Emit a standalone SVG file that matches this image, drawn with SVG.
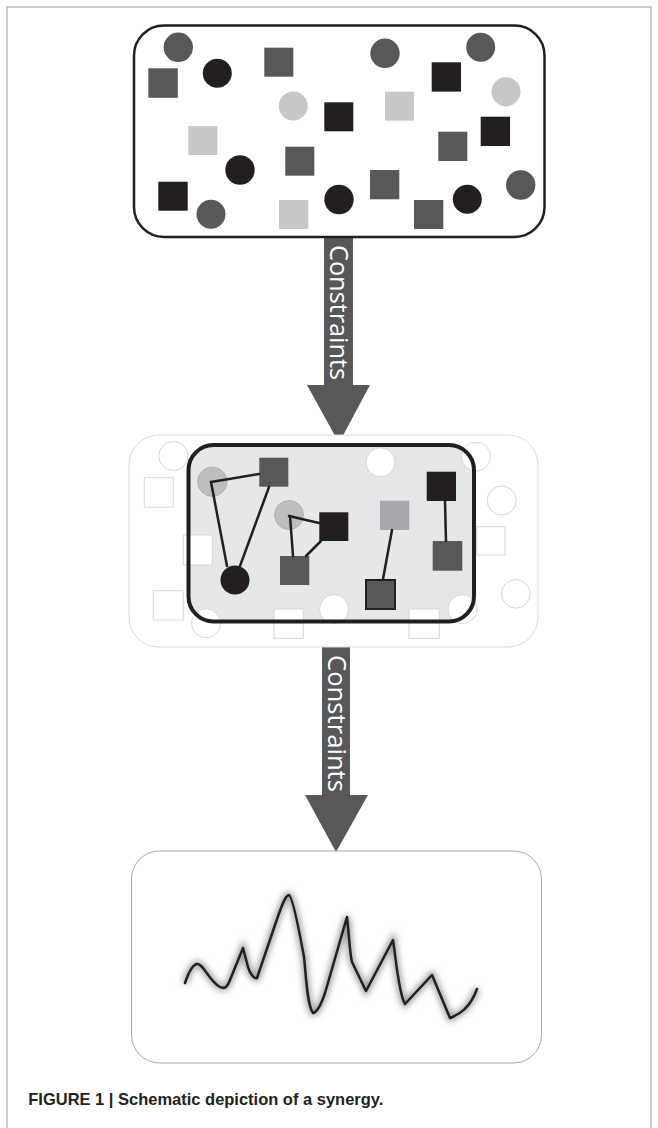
<svg xmlns="http://www.w3.org/2000/svg" width="658" height="1128" viewBox="0 0 658 1128">
<style>
.dk{fill:#58585a}
.bk{fill:#231f20}
.lt{fill:#c7c8ca}
.md{fill:#a7a9ac}
.ghost{fill:#ffffff;stroke:#d6d7d9;stroke-width:1}
.edge{stroke:#231f20;stroke-width:2.5;fill:none;stroke-linecap:round}
.arrow{fill:#58585a}
.lbl{font-family:"Open Sans","Liberation Sans",sans-serif;font-size:25px;fill:#ffffff}
.cap{font-family:"Liberation Sans",Arial,sans-serif;font-size:16.5px;font-weight:bold;fill:#231f20}
</style>
<defs>
<filter id="glow" x="-10%" y="-20%" width="120%" height="140%">
<feGaussianBlur stdDeviation="3"/>
</filter>
</defs>
<rect x="0" y="0" width="658" height="1128" fill="#ffffff"/>
<rect id="frame" x="7" y="7" width="644" height="1140" fill="none" stroke="#9a9a9a" stroke-width="1"/>

<g id="connectors">
<g id="arrow1">
<rect class="arrow" x="324" y="236" width="29" height="150"/>
<polygon class="arrow" points="307,385 370,385 339,443"/>
<text class="lbl" transform="translate(330,245) rotate(90)" textLength="135" lengthAdjust="spacingAndGlyphs">Constraints</text>
</g>
<g id="arrow2">
<rect class="arrow" x="322" y="646" width="28" height="150"/>
<polygon class="arrow" points="305,795 368,795 336,852"/>
<text class="lbl" transform="translate(327.5,655) rotate(90)" textLength="137" lengthAdjust="spacingAndGlyphs">Constraints</text>
</g>
</g>

<g id="box-top">
<rect x="134" y="25.5" width="410.5" height="211.5" rx="30" fill="#ffffff" stroke="#231f20" stroke-width="2.5"/>
<g class="dk">
<circle cx="178.3" cy="47.3" r="14.7"/><circle cx="385" cy="53.3" r="14.7"/><circle cx="480.7" cy="47.3" r="14.5"/><circle cx="211" cy="214.3" r="14.5"/><circle cx="520.7" cy="185" r="14.7"/>
<rect x="148.3" y="68.3" width="29.5" height="29.5"/><rect x="264.3" y="47.7" width="29" height="29"/><rect x="285.3" y="146.7" width="29" height="29"/><rect x="370" y="170" width="29.3" height="29.3"/><rect x="414" y="200" width="29.3" height="29"/><rect x="438.3" y="131.7" width="29" height="29.3"/>
</g>
<g class="bk">
<circle cx="217.3" cy="73.3" r="14.5"/><circle cx="240" cy="170" r="14.7"/><circle cx="339" cy="199.5" r="14.7"/><circle cx="467.3" cy="199.3" r="14.5"/>
<rect x="324.3" y="102.3" width="29" height="29"/><rect x="431.7" y="62.3" width="29.3" height="29.3"/><rect x="480.7" y="116.7" width="29.3" height="29.3"/><rect x="158.3" y="181.7" width="29.4" height="29"/>
</g>
<g class="lt">
<circle cx="293.3" cy="106" r="14.5"/><circle cx="506" cy="91.7" r="14.5"/>
<rect x="385" y="91.7" width="29" height="29"/><rect x="188.3" y="126" width="29" height="29"/><rect x="279" y="200" width="29.3" height="29"/>
</g>
</g>

<g id="box-middle">
<rect x="129" y="435" width="409" height="212" rx="30" fill="#ffffff" stroke="#dcdddf" stroke-width="1"/>
<rect x="188.5" y="445" width="285.5" height="176.5" rx="25" fill="#e6e7e8"/>
<g id="ghosts">
<circle class="ghost" cx="173.3" cy="456" r="14.5"/>
<rect class="ghost" x="144.3" y="477.7" width="29" height="29.5"/>
<rect class="ghost" x="183.3" y="535" width="29" height="30"/>
<rect class="ghost" x="153.3" y="590.7" width="30" height="29.3"/>
<circle class="ghost" cx="206" cy="623.3" r="14.5"/>
<rect class="ghost" x="274" y="609" width="29.3" height="29.3"/>
<circle class="ghost" cx="334" cy="609" r="14.5"/>
<circle class="ghost" cx="380.5" cy="462.3" r="14.5"/>
<rect class="ghost" x="409" y="609" width="30.3" height="29.3"/>
<circle class="ghost" cx="462.5" cy="609" r="14.5"/>
<circle class="ghost" cx="476" cy="456.7" r="14.5"/>
<circle class="ghost" cx="501.7" cy="500.5" r="14.5"/>
<rect class="ghost" x="476.7" y="526.7" width="28.3" height="28.3"/>
<circle class="ghost" cx="515.8" cy="593.8" r="14.3"/>
</g>
<rect x="188.5" y="445" width="285.5" height="176.5" rx="25" fill="none" stroke="#231f20" stroke-width="4"/>
</g>

<g id="nodes-middle">
<circle id="m-c1" cx="212.3" cy="481.7" r="14.7" fill="#bcbec0" stroke="#a7a9ac" stroke-width="0.8"/>
<rect id="m-s1" class="dk" x="259.3" y="457.7" width="29" height="29"/>
<circle id="m-c2" cx="289" cy="515" r="14.5" fill="#bcbec0" stroke="#a7a9ac" stroke-width="0.8"/>
<rect id="m-s2" class="bk" x="319.3" y="512.3" width="29" height="28.7"/>
<circle id="m-c3" class="bk" cx="235" cy="580" r="14.5"/>
<rect id="m-s3" class="dk" x="280" y="556" width="29.3" height="29"/>
<rect id="m-s4" class="md" x="380" y="500.7" width="29.3" height="29.3"/>
<rect id="m-s5" class="bk" x="426.7" y="471.7" width="29.3" height="29.3"/>
<rect id="m-s6" class="dk" x="432.7" y="541" width="29.6" height="29.7"/>
<rect id="m-s7" class="dk" x="366" y="580" width="29" height="29" stroke="#231f20" stroke-width="2"/>
</g>

<g id="edges-middle">
<line class="edge" x1="211" y1="482" x2="259" y2="474"/>
<line class="edge" x1="211" y1="482" x2="227" y2="566"/>
<line class="edge" x1="269" y1="487" x2="240" y2="566"/>
<line class="edge" x1="289" y1="516" x2="319" y2="523"/>
<line class="edge" x1="290" y1="516" x2="293" y2="556"/>
<line class="edge" x1="321" y1="541" x2="306" y2="556"/>
<line class="edge" x1="445" y1="501" x2="446" y2="541"/>
<line class="edge" x1="392" y1="530" x2="383" y2="579"/>
</g>

<g id="box-bottom">
<rect x="131.5" y="851" width="410" height="212" rx="28" fill="#ffffff" stroke="#a9a9a9" stroke-width="1"/>
<path id="wave-glow" d="M185,983 Q191,965 197,964 C203,963 210,982 220,987 C226,990 228,985 230,980 L243,948 L248,967 C250,974 254,979 257,978 L275,925 C280,910 285,895 289,895 C293,897 300,935 304,957 C306,975 307,1005 313,1013 C318,1012 322,1002 325,993 L347,917 C349,935 350,955 352,962 L366,991 L393,940 C396,960 399,995 405,1004 L432,975 L450,1018 C460,1014 470,1008 477,989" fill="none" stroke="#9a9a9a" stroke-width="6" filter="url(#glow)"/>
<path id="wave" d="M185,983 Q191,965 197,964 C203,963 210,982 220,987 C226,990 228,985 230,980 L243,948 L248,967 C250,974 254,979 257,978 L275,925 C280,910 285,895 289,895 C293,897 300,935 304,957 C306,975 307,1005 313,1013 C318,1012 322,1002 325,993 L347,917 C349,935 350,955 352,962 L366,991 L393,940 C396,960 399,995 405,1004 L432,975 L450,1018 C460,1014 470,1008 477,989" fill="none" stroke="#231f20" stroke-width="2.5" stroke-linejoin="round" stroke-linecap="round"/>
</g>

<text id="caption" class="cap" x="28.3" y="1104.5" textLength="355" lengthAdjust="spacingAndGlyphs">FIGURE 1 | Schematic depiction of a synergy.</text>
</svg>
